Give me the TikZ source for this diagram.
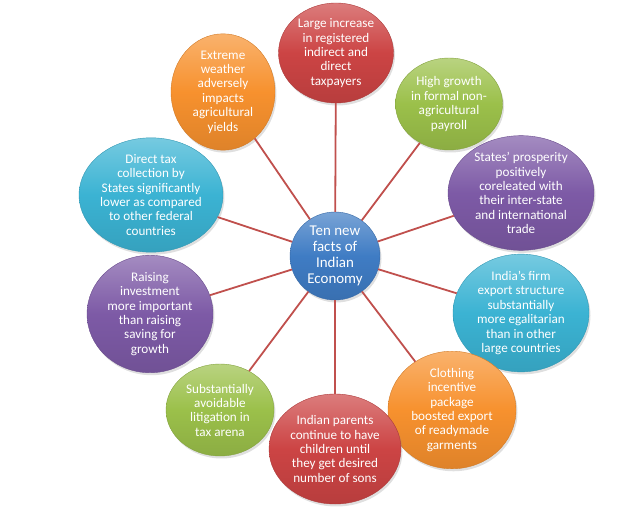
\documentclass[tikz,border=0pt]{standalone}
\usepackage{fontspec}
\setmainfont{Carlito}
\usetikzlibrary{shapes.geometric,shadows}
\definecolor{cred}{HTML}{CC4444}
\definecolor{cgreen}{HTML}{9BC04A}
\definecolor{cpurple}{HTML}{7D5AA6}
\definecolor{cteal}{HTML}{3BB3D3}
\definecolor{corange}{HTML}{F7912E}
\definecolor{cblue}{HTML}{3F7CC4}
\definecolor{linkred}{HTML}{C0504D}
\tikzset{
  bub/.style={ellipse, inner sep=0pt, align=center, text=white,
    font=\fontsize{13.2}{14.4}\selectfont,
    top color=#1!70!white, bottom color=#1!90!black, middle color=#1,
    draw=#1!85!black, line width=0.4pt,
    drop shadow={opacity=0.25, shadow xshift=1.5pt, shadow yshift=-2.5pt}},
  link/.style={draw=linkred, line width=1.8bp},
}
\begin{document}
\begin{tikzpicture}[x=1bp,y=-1bp]
\useasboundingbox (0,0) rectangle (640,525);
% nodes
\node[bub=cblue, minimum width=90bp, minimum height=88bp, font=\fontsize{15}{16}\selectfont] (c) at (335,256) {Ten new\\facts of\\Indian\\Economy};
\node[bub=cred, minimum width=115bp, minimum height=100bp] (n1) at (336,53) {Large increase\\in registered\\indirect and\\direct\\taxpayers};
\node[bub=cgreen, minimum width=107bp, minimum height=92bp] (n2) at (449,104) {High growth\\in formal non-\\agricultural\\payroll};
\node[bub=cpurple, minimum width=146bp, minimum height=92bp] (n3) at (521,193) {States' prosperity\\positively\\coreleated with\\their inter-state\\and international\\trade};
\node[bub=cteal, minimum width=136bp, minimum height=100bp] (n4) at (521,313) {India's firm\\export structure\\substantially\\more egalitarian\\than in other\\large countries};
\node[bub=corange, minimum width=128bp, minimum height=90bp] (n5) at (452,410) {Clothing\\incentive\\package\\boosted export\\of readymade\\garments};
\node[bub=cred, minimum width=132bp, minimum height=110bp] (n6) at (335,449) {Indian parents\\continue to have\\children until\\they get desired\\number of sons};
\node[bub=cgreen, minimum width=108bp, minimum height=92bp] (n7) at (220,410) {Substantially\\avoidable\\litigation in\\tax arena};
\node[bub=cpurple, minimum width=126bp, minimum height=92bp] (n8) at (150,314) {Raising\\investment\\more important\\than raising\\saving for\\growth};
\node[bub=cteal, minimum width=144bp, minimum height=100bp] (n9) at (151,195) {Direct tax\\collection by\\States significantly\\lower as compared\\to other federal\\countries};
\node[bub=corange, minimum width=104bp, minimum height=92bp] (n10) at (223,92) {Extreme\\weather\\adversely\\impacts\\agricultural\\yields};
% links
\foreach \n in {n1,n2,n3,n4,n5,n6,n7,n8,n9,n10}
  \draw[link] (c) -- (\n);
\end{tikzpicture}
\end{document}
